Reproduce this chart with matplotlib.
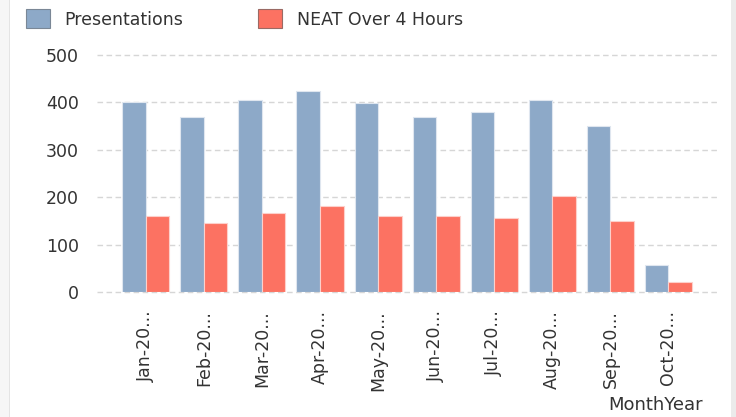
import matplotlib
matplotlib.use("Agg")
import matplotlib.pyplot as plt
import numpy as np
from matplotlib.patches import Rectangle

categories = ["Jan-20...", "Feb-20...", "Mar-20...", "Apr-20...", "May-20...",
              "Jun-20...", "Jul-20...", "Aug-20...", "Sep-20...", "Oct-20..."]
presentations = [401, 369, 405, 423, 398, 369, 380, 405, 351, 57]
neat_over_4h = [161, 145, 167, 181, 161, 161, 156, 202, 149, 22]
series_names = ["Presentations", "NEAT Over 4 Hours"]
y_ticks = [0, 100, 200, 300, 400, 500]
x_title = "MonthYear"

plt.rcParams['font.family'] = ['DejaVu Sans']
W, H = 736, 417
fig = plt.figure(figsize=(W / 100, H / 100), dpi=100)
fig.patch.set_facecolor("white")

# side frame strips
fig.add_artist(Rectangle((0, 0), 9 / W, 1, transform=fig.transFigure,
                         facecolor="#f6f6f6", edgecolor="none", zorder=0))
fig.add_artist(Rectangle((9 / W, 0), 1 / W, 1, transform=fig.transFigure,
                         facecolor="#e4e4e4", edgecolor="none", zorder=0))
fig.add_artist(Rectangle((731 / W, 0), 5 / W, 1, transform=fig.transFigure,
                         facecolor="#ebebeb", edgecolor="none", zorder=0))

left, right = 96.7 / W, 719 / W
bottom, top = 1 - 292 / H, 1 - 55 / H
ax = fig.add_axes([left, bottom, right - left, top - bottom])
ax.set_facecolor("none")

x = np.arange(len(categories))
bw = 0.405
c_blue = "#8DA9C8"
c_red = "#FC7262"
b1 = ax.bar(x - bw / 2, presentations, width=bw, color=c_blue,
            edgecolor="#dfe6ef", linewidth=0.8, zorder=3, label=series_names[0])
b2 = ax.bar(x + bw / 2, neat_over_4h, width=bw, color=c_red,
            edgecolor="#fdd0cb", linewidth=0.8, zorder=3, label=series_names[1])

ax.set_xlim(-0.845, 9.87)
ax.set_ylim(0, 500)
ax.set_yticks(y_ticks)
ax.set_yticklabels([str(v) for v in y_ticks])
ax.set_xticks(x)
ax.set_xticklabels(categories, rotation=90, ha="center", va="top")

for s in ax.spines.values():
    s.set_visible(False)
ax.tick_params(axis="both", length=0, colors="#333333", labelsize=12.5)
ax.tick_params(axis="y", pad=13)
ax.tick_params(axis="x", pad=13)
ax.yaxis.grid(True, color="#d6d6d6", linestyle=(0, (4, 2.5)), linewidth=1.0, zorder=0)
ax.set_axisbelow(True)
for gl in ax.get_ygridlines():
    gl.set_clip_on(False)

fig.text(703 / W, 1 - 410 / H, x_title, ha="right", va="baseline",
         fontsize=13, color="#333333")

# legend
h1 = Rectangle((0, 0), 1, 1, facecolor=c_blue, edgecolor="#7a8796", linewidth=0.8)
h2 = Rectangle((0, 0), 1, 1, facecolor=c_red, edgecolor="#9a6a64", linewidth=0.8)
leg = fig.legend([h1, h2], series_names, ncol=2, loc="center left",
                 bbox_to_anchor=(26 / W, 1 - 19 / H), frameon=False,
                 fontsize=12.5, handlelength=1.38, handleheight=1.32,
                 handletextpad=0.85, columnspacing=4.3, borderpad=0,
                 borderaxespad=0)
for t in leg.get_texts():
    t.set_color("#333333")

fig.savefig("out.png", dpi=100, facecolor="white")
